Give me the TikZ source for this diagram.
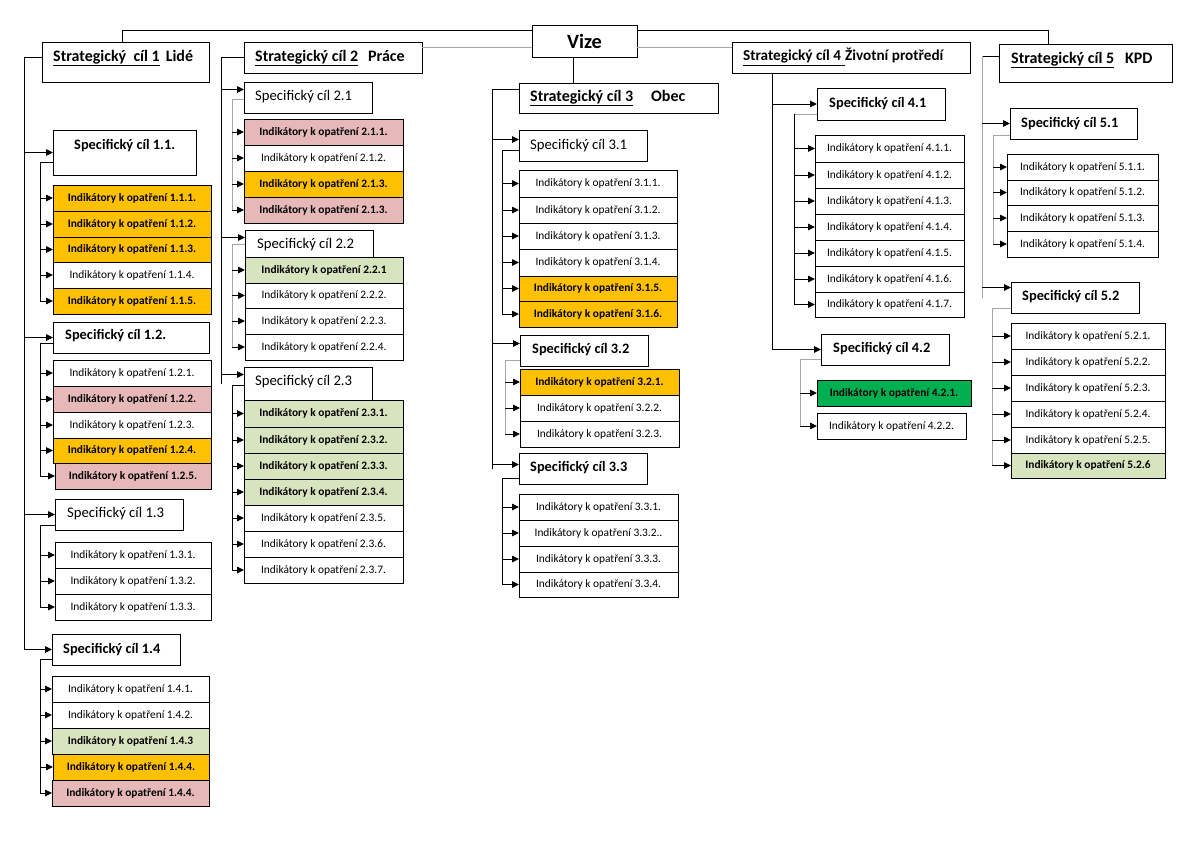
\documentclass[tikz,border=0pt]{standalone}
\usepackage{fontspec}
\setmainfont{Carlito}
\usetikzlibrary{arrows.meta}
\definecolor{orng}{HTML}{FFC000}
\definecolor{pnk}{HTML}{E6B9B8}
\definecolor{lgrn}{HTML}{D7E4BD}
\definecolor{dgrn}{HTML}{00B050}
\definecolor{lgry}{HTML}{A6A6A6}
\newcommand\ik{Indikátory k opatření}
\newcommand\ibx[7]{\node[bx,#6,anchor=north west,minimum width={(#4-#2)*1pt},minimum height={(#5-#3)*1pt}] (#1) at (#2,#3) {#7};}
\newcommand\sbx[5]{\node[bx,anchor=north west,minimum width={(#4-#2)*1pt},minimum height={(#5-#3)*1pt}] (#1) at (#2,#3) {};}
\tikzset{
 bx/.style={draw, line width=0.9pt, inner sep=0pt, outer sep=0pt, fill=white, font=\fontsize{11.4}{13}\selectfont},
 iwh/.style={},
 ior/.style={fill=orng, font=\fontsize{11.4}{13}\selectfont\bfseries},
 ipk/.style={fill=pnk, font=\fontsize{11.4}{13}\selectfont\bfseries},
 igl/.style={fill=lgrn, font=\fontsize{11.4}{13}\selectfont\bfseries},
 igr/.style={fill=dgrn, font=\fontsize{11.4}{13}\selectfont\bfseries},
 ln/.style={line width=0.9pt},
 gln/.style={line width=0.9pt, draw=lgry},
 arr/.style={line width=0.9pt, -{Triangle[length=7pt,width=6.5pt]}},
 lbl/.style={inner sep=0pt, anchor=west},
 spb/.style={lbl, font=\fontsize{14.4}{16}\selectfont\bfseries},
 spr/.style={lbl, font=\fontsize{14.7}{16}\selectfont},
 hdr/.style={lbl, font=\fontsize{16}{18}\selectfont\bfseries},
}
\begin{document}
\begin{tikzpicture}[x=1pt,y=-1pt]
\path[fill=white,use as bounding box] (0,0) rectangle (1200,852);

% ---------- headers ----------
\sbx{h1}{42}{42}{209}{82}
\node[hdr] (h1t) at (53,58) {\underline{Strategický\ \ cíl 1}\hspace{6pt}Lidé};
\sbx{h2}{244}{42}{422}{73}
\node[hdr] (h2t) at (255,58) {\underline{Strategický cíl 2}\hspace{10pt}Práce};
\sbx{h3}{519}{83}{718}{113}
\node[hdr] (h3t) at (530,98) {\underline{Strategický cíl 3}\hspace{18pt}Obec};
\sbx{h4}{732}{42}{970}{73}
\node[hdr, font=\fontsize{15.2}{18}\selectfont\bfseries] (h4t) at (743,57) {\underline{Strategický cíl 4\hspace{4pt}}Životní protředí};
\sbx{h5}{999}{44}{1172}{82}
\node[hdr] (h5t) at (1011,60) {\underline{Strategický cíl 5}\hspace{11pt}KPD};

% top bracket and vision
\coordinate (tl) at (122,30); \coordinate (tr) at (1048,30);
\draw[ln] (tl |- h1.north) -- (tl) -- (tr) -- (tr |- h5.north);
\coordinate (g) at (0,47);
\sbx{vize}{532}{25}{637}{57}
\node[inner sep=0pt, font=\fontsize{20.3}{22}\selectfont\bfseries] (vizet) at (vize.center) {Vize};
\draw[gln] (h2.east |- g) -- (vize.west |- g);
\draw[gln] (vize.east |- g) -- (h4.west |- g);
\coordinate (v) at (573,0);
\draw[ln] (vize.south -| v) -- (h3.north -| v);

% ---------- column 1 ----------
\sbx{s11}{53}{130}{196}{175}
\node[spb] (s11t) at (74,146) {Specifický cíl 1.1.};
\ibx{i111}{53}{185}{211}{211}{ior}{\ik{} 1.1.1.}
\ibx{i112}{53}{211}{211}{237}{ior}{\ik{} 1.1.2.}
\ibx{i113}{53}{237}{211}{262}{ior}{\ik{} 1.1.3.}
\ibx{i114}{53}{262}{211}{288}{iwh}{\ik{} 1.1.4.}
\ibx{i115}{53}{288}{211}{314}{ior}{\ik{} 1.1.5.}
\sbx{s12}{53}{322}{209}{353}
\node[spb] (s12t) at (65,336) {Specifický cíl 1.2.};
\ibx{i121}{53}{360}{211}{386}{iwh}{\ik{} 1.2.1.}
\ibx{i122}{53}{386}{211}{412}{ipk}{\ik{} 1.2.2.}
\ibx{i123}{53}{412}{211}{438}{iwh}{\ik{} 1.2.3.}
\ibx{i124}{53}{438}{211}{463}{ior}{\ik{} 1.2.4.}
\ibx{i125}{55}{463}{211}{489}{ipk}{\ik{} 1.2.5.}
\sbx{s13}{55}{499}{183}{530}
\node[spr] (s13t) at (67,514) {Specifický cíl 1.3};
\ibx{i131}{55}{542}{211}{568}{iwh}{\ik{} 1.3.1.}
\ibx{i132}{55}{568}{211}{594}{iwh}{\ik{} 1.3.2.}
\ibx{i133}{55}{594}{211}{620}{iwh}{\ik{} 1.3.3.}
\sbx{s14}{52}{634}{180}{665}
\node[spb] (s14t) at (63,650) {Specifický cíl 1.4};
\ibx{i141}{52}{676}{209}{702}{iwh}{\ik{} 1.4.1.}
\ibx{i142}{52}{702}{209}{728}{iwh}{\ik{} 1.4.2.}
\ibx{i143}{52}{728}{209}{754}{igl}{\ik{} 1.4.3}
\ibx{i144}{53}{754}{209}{780}{ior}{\ik{} 1.4.4.}
\ibx{i145}{52}{780}{209}{806}{ipk}{\ik{} 1.4.4.}

\coordinate (m1) at (24,57);
\draw[ln] (h1.west |- m1) -- (m1) -- (m1 |- s14.west);
\foreach \n in {s11,s12,s13,s14} \draw[arr] (m1 |- \n.west) -- (\n.west);
\coordinate (k11) at (40,162);
\draw[ln] (s11.west |- k11) -- (k11) -- (k11 |- i115.west);
\foreach \n in {i111,i112,i113,i114,i115} \draw[arr] (k11 |- \n.west) -- (\n.west);
\coordinate (k12) at (40,343);
\draw[ln] (s12.west |- k12) -- (k12) -- (k12 |- i125.west);
\foreach \n in {i121,i122,i123,i124,i125} \draw[arr] (k12 |- \n.west) -- (\n.west);
\coordinate (k13) at (40,525);
\draw[ln] (s13.west |- k13) -- (k13) -- (k13 |- i133.west);
\foreach \n in {i131,i132,i133} \draw[arr] (k13 |- \n.west) -- (\n.west);
\coordinate (k14) at (40,659);
\draw[ln] (s14.west |- k14) -- (k14) -- (k14 |- i145.west);
\foreach \n in {i141,i142,i143,i144,i145} \draw[arr] (k14 |- \n.west) -- (\n.west);

% ---------- column 2 ----------
\sbx{s21}{244}{82}{372}{113}
\node[spr] (s21t) at (255,97) {Specifický cíl 2.1};
\ibx{i211}{244}{119}{403}{145}{ipk}{\ik{} 2.1.1.}
\ibx{i212}{244}{145}{403}{171}{iwh}{\ik{} 2.1.2.}
\ibx{i213}{244}{171}{403}{197}{ior}{\ik{} 2.1.3.}
\ibx{i214}{244}{197}{403}{223}{ipk}{\ik{} 2.1.3.}
\sbx{s22}{245}{230}{373}{257}
\node[spr] (s22t) at (257,245) {Specifický cíl 2.2};
\ibx{i221}{245}{257}{403}{283}{igl}{\ik{} 2.2.1}
\ibx{i222}{245}{283}{403}{308}{iwh}{\ik{} 2.2.2.}
\ibx{i223}{245}{308}{403}{334}{iwh}{\ik{} 2.2.3.}
\ibx{i224}{245}{334}{403}{360}{iwh}{\ik{} 2.2.4.}
\sbx{s23}{244}{367}{372}{400}
\node[spr] (s23t) at (255,382) {Specifický cíl 2.3};
\ibx{i231}{244}{400}{403}{427}{igl}{\ik{} 2.3.1.}
\ibx{i232}{244}{427}{403}{453}{igl}{\ik{} 2.3.2.}
\ibx{i233}{244}{453}{403}{479}{igl}{\ik{} 2.3.3.}
\ibx{i234}{244}{479}{403}{505}{igl}{\ik{} 2.3.4.}
\ibx{i235}{244}{505}{403}{531}{iwh}{\ik{} 2.3.5.}
\ibx{i236}{244}{531}{403}{557}{iwh}{\ik{} 2.3.6.}
\ibx{i237}{244}{557}{403}{583}{iwh}{\ik{} 2.3.7.}

\coordinate (m2) at (221,57);
\draw[ln] (h2.west |- m2) -- (m2) -- (m2 |- s23.west);
\draw[arr] (m2 |- s21.west) ++(0,-8) -- ([yshift=8pt]s21.west);
\draw[arr] (m2 |- s22.west) ++(0,-6) -- ([yshift=6pt]s22.west);
\draw[arr] (m2 |- s23.west) ++(0,-9) -- ([yshift=9pt]s23.west);
\coordinate (k21) at (232,99);
\draw[gln] (s21.west |- k21) -- (k21) -- (k21 |- i214.west);
\foreach \n in {i211,i212,i213,i214} \draw[arr] (k21 |- \n.west) -- (\n.west);
\coordinate (k22) at (232,244);
\draw[gln] (s22.west |- k22) -- (k22) -- (k22 |- i224.west);
\foreach \n in {i221,i222,i223,i224} \draw[arr] (k22 |- \n.west) -- (\n.west);
\coordinate (k23) at (232,385);
\draw[ln] (s23.west |- k23) -- (k23) -- (k23 |- i237.west);
\foreach \n in {i231,i232,i233,i234,i235,i236,i237} \draw[arr] (k23 |- \n.west) -- (\n.west);

% ---------- column 3 ----------
\sbx{s31}{519}{130}{647}{161}
\node[spr] (s31t) at (530,146) {Specifický cíl 3.1};
\ibx{i311}{519}{170}{677}{197}{iwh}{\ik{} 3.1.1.}
\ibx{i312}{519}{197}{677}{223}{iwh}{\ik{} 3.1.2.}
\ibx{i313}{519}{223}{677}{249}{iwh}{\ik{} 3.1.3.}
\ibx{i314}{519}{249}{677}{276}{iwh}{\ik{} 3.1.4.}
\ibx{i315}{519}{276}{677}{301}{ior}{\ik{} 3.1.5.}
\ibx{i316}{519}{301}{677}{327}{ior}{\ik{} 3.1.6.}
\sbx{s32}{520}{335}{648}{366}
\node[spb] (s32t) at (532,350) {Specifický cíl 3.2};
\ibx{i321}{520}{369}{679}{395}{ior}{\ik{} 3.2.1.}
\ibx{i322}{520}{395}{679}{421}{iwh}{\ik{} 3.2.2.}
\ibx{i323}{520}{421}{679}{447}{iwh}{\ik{} 3.2.3.}
\sbx{s33}{519}{453}{647}{484}
\node[spb] (s33t) at (530,468) {Specifický cíl 3.3};
\ibx{i331}{519}{494}{678}{520}{iwh}{\ik{} 3.3.1.}
\ibx{i332}{519}{520}{678}{546}{iwh}{\ik{} 3.3.2..}
\ibx{i333}{519}{546}{678}{572}{iwh}{\ik{} 3.3.3.}
\ibx{i334}{519}{572}{678}{597}{iwh}{\ik{} 3.3.4.}

\coordinate (m3) at (492,89);
\draw[ln] (h3.west |- m3) -- (m3) -- (m3 |- s33.west);
\draw[arr] (m3 |- s31.west) ++(0,-6) -- ([yshift=6pt]s31.west);
\draw[arr] (m3 |- s32.west) ++(0,-7) -- ([yshift=7pt]s32.west);
\draw[arr] (m3 |- s33.west) ++(0,-4) -- ([yshift=4pt]s33.west);
\coordinate (k31) at (502,150);
\draw[ln] (s31.west |- k31) -- (k31) -- (k31 |- i316.west);
\foreach \n in {i311,i312,i313,i314,i315,i316} \draw[arr] (k31 |- \n.west) -- (\n.west);
\coordinate (k32) at (505,360);
\draw[gln] (s32.west |- k32) -- (k32) -- (k32 |- i323.west);
\foreach \n in {i321,i322,i323} \draw[arr] (k32 |- \n.west) -- (\n.west);
\coordinate (k33) at (502,478);
\draw[ln] (s33.west |- k33) -- (k33) -- (k33 |- i334.west);
\foreach \n in {i331,i332,i333,i334} \draw[arr] (k33 |- \n.west) -- (\n.west);

% ---------- column 4 ----------
\sbx{s41}{817}{88}{945}{120}
\node[spb] (s41t) at (829,104) {Specifický cíl 4.1};
\ibx{i411}{815}{135}{964}{162}{iwh}{\ik{} 4.1.1.}
\ibx{i412}{815}{162}{964}{188}{iwh}{\ik{} 4.1.2.}
\ibx{i413}{815}{188}{964}{214}{iwh}{\ik{} 4.1.3.}
\ibx{i414}{815}{214}{964}{240}{iwh}{\ik{} 4.1.4.}
\ibx{i415}{815}{240}{964}{266}{iwh}{\ik{} 4.1.5.}
\ibx{i416}{815}{266}{964}{292}{iwh}{\ik{} 4.1.6.}
\ibx{i417}{815}{292}{964}{317}{iwh}{\ik{} 4.1.7.}
\sbx{s42}{821}{334}{949}{365}
\node[spb] (s42t) at (833,349) {Specifický cíl 4.2};
\ibx{i421}{817}{380}{971}{406}{igr}{\ik{} 4.2.1.}
\ibx{i422}{817}{413}{966}{439}{iwh}{\ik{} 4.2.2.}

\coordinate (m4) at (772,0);
\draw[ln] (h4.south -| m4) -- (m4 |- s42.west);
\foreach \n in {s41,s42} \draw[arr] (m4 |- \n.west) -- (\n.west);
\coordinate (k41) at (794,114);
\draw[gln] (s41.west |- k41) -- (k41);
\draw[ln] (k41) -- (k41 |- i417.west);
\foreach \n in {i411,i412,i413,i414,i415,i416,i417} \draw[arr] (k41 |- \n.west) -- (\n.west);
\coordinate (k42) at (800,359);
\draw[gln] (s42.west |- k42) -- (k42) -- (k42 |- i422.west);
\foreach \n in {i421,i422} \draw[arr] (k42 |- \n.west) -- (\n.west);

% ---------- column 5 ----------
\sbx{s51}{1010}{108}{1137}{139}
\node[spb] (s51t) at (1021,124) {Specifický cíl 5.1};
\ibx{i511}{1007}{154}{1158}{180}{iwh}{\ik{} 5.1.1.}
\ibx{i512}{1007}{180}{1158}{205}{iwh}{\ik{} 5.1.2.}
\ibx{i513}{1007}{205}{1158}{231}{iwh}{\ik{} 5.1.3.}
\ibx{i514}{1007}{231}{1158}{257}{iwh}{\ik{} 5.1.4.}
\sbx{s52}{1011}{282}{1139}{313}
\node[spb] (s52t) at (1022,297) {Specifický cíl 5.2};
\ibx{i521}{1011}{323}{1165}{349}{iwh}{\ik{} 5.2.1.}
\ibx{i522}{1011}{349}{1165}{375}{iwh}{\ik{} 5.2.2.}
\ibx{i523}{1011}{375}{1165}{401}{iwh}{\ik{} 5.2.3.}
\ibx{i524}{1011}{401}{1165}{427}{iwh}{\ik{} 5.2.4.}
\ibx{i525}{1011}{427}{1165}{453}{iwh}{\ik{} 5.2.5.}
\ibx{i526}{1011}{453}{1165}{478}{igl}{\ik{} 5.2.6}

\coordinate (m5) at (982,56);
\draw[ln] (h5.west |- m5) -- (m5);
\draw[gln] (m5) -- (m5 |- s52.west);
\draw[arr] (m5 |- s51.west) -- (s51.west);
\draw[arr] (m5 |- s52.west) ++(0,-10) -- ([yshift=10pt]s52.west);
\coordinate (k51) at (993,135);
\draw[gln] (s51.west |- k51) -- (k51) -- (k51 |- i514.west);
\foreach \n in {i511,i512,i513,i514} \draw[arr] (k51 |- \n.west) -- (\n.west);
\coordinate (k52) at (992,308);
\draw[gln] (s52.west |- k52) -- (k52) -- (k52 |- i526.west);
\foreach \n in {i521,i522,i523,i524,i525,i526} \draw[arr] (k52 |- \n.west) -- (\n.west);
\end{tikzpicture}
\end{document}
